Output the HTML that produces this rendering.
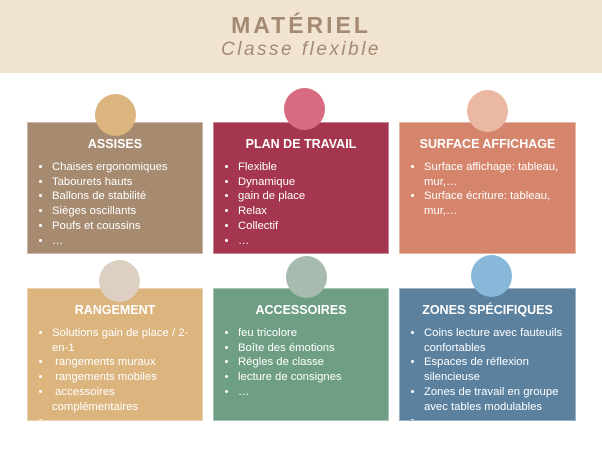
<!DOCTYPE html>
<html><head><meta charset="utf-8"><style>
body{margin:0;width:602px;height:451px;background:#fff;position:relative;overflow:hidden;font-family:"Liberation Sans",sans-serif}
.hdr{position:absolute;left:0;top:0;width:602px;height:73px;background:#f2e4d2}
.t1{position:absolute;top:12px;width:602px;text-align:center;font-size:23px;font-weight:bold;letter-spacing:3px;color:#a48a72}
.t2{position:absolute;top:39px;width:602px;text-align:center;font-size:19px;font-style:italic;letter-spacing:2.5px;color:#a48a72}
.card{position:absolute;width:176px;height:132px;overflow:hidden;color:#fff;box-sizing:border-box;border:1px solid rgba(255,255,255,.4)}
.card h3{margin:0;position:absolute;top:14px;width:100%;text-align:center;font-size:12.5px;font-weight:bold}
.card ul{position:absolute;top:37px;left:0;margin:0;padding:0 6px 0 24px;font-size:11.3px;line-height:14.7px}
.card li{margin:0}
.c{position:absolute;width:41px;height:42px;border-radius:50%}
</style></head><body>
<div class="hdr"></div>
<div class="t1">MATÉRIEL</div>
<div class="t2">Classe flexible</div>

<div class="card" style="left:27px;top:122px;background:#a68b71"><h3>ASSISES</h3><ul><li>Chaises ergonomiques</li><li>Tabourets hauts</li><li>Ballons de stabilité</li><li>Sièges oscillants</li><li>Poufs et coussins</li><li>…</li></ul></div>
<div class="card" style="left:213px;top:122px;background:#a5364f"><h3>PLAN DE TRAVAIL</h3><ul><li>Flexible</li><li>Dynamique</li><li>gain de place</li><li>Relax</li><li>Collectif</li><li>…</li></ul></div>
<div class="card" style="left:399px;top:122px;width:177px;background:#d5856b"><h3>SURFACE AFFICHAGE</h3><ul><li>Surface affichage: tableau, mur,…</li><li>Surface écriture: tableau, mur,…</li></ul></div>

<div class="card" style="left:27px;top:288px;height:133px;background:#dbb47e"><h3>RANGEMENT</h3><ul><li>Solutions gain de place / 2-en-1</li><li>&nbsp;rangements muraux</li><li>&nbsp;rangements mobiles</li><li>&nbsp;accessoires complémentaires</li><li>&nbsp;</li></ul></div>
<div class="card" style="left:213px;top:288px;height:133px;background:#6e9f84"><h3>ACCESSOIRES</h3><ul><li>feu tricolore</li><li>Boîte des émotions</li><li>Régles de classe</li><li>lecture de consignes</li><li>…</li></ul></div>
<div class="card" style="left:399px;top:288px;width:177px;height:133px;background:#5b819f"><h3>ZONES SPÉCIFIQUES</h3><ul><li>Coins lecture avec fauteuils confortables</li><li>Espaces de réflexion silencieuse</li><li>Zones de travail en groupe avec tables modulables</li><li>&nbsp;</li></ul></div>

<div class="c" style="left:95px;top:94px;background:#dcb47e"></div>
<div class="c" style="left:284px;top:88px;background:#d96b80"></div>
<div class="c" style="left:467px;top:90px;background:#ebb8a3"></div>
<div class="c" style="left:99px;top:260px;background:#ddd0c3"></div>
<div class="c" style="left:286px;top:256px;background:#a7bbaf"></div>
<div class="c" style="left:471px;top:255px;background:#87b7d9"></div>
</body></html>
